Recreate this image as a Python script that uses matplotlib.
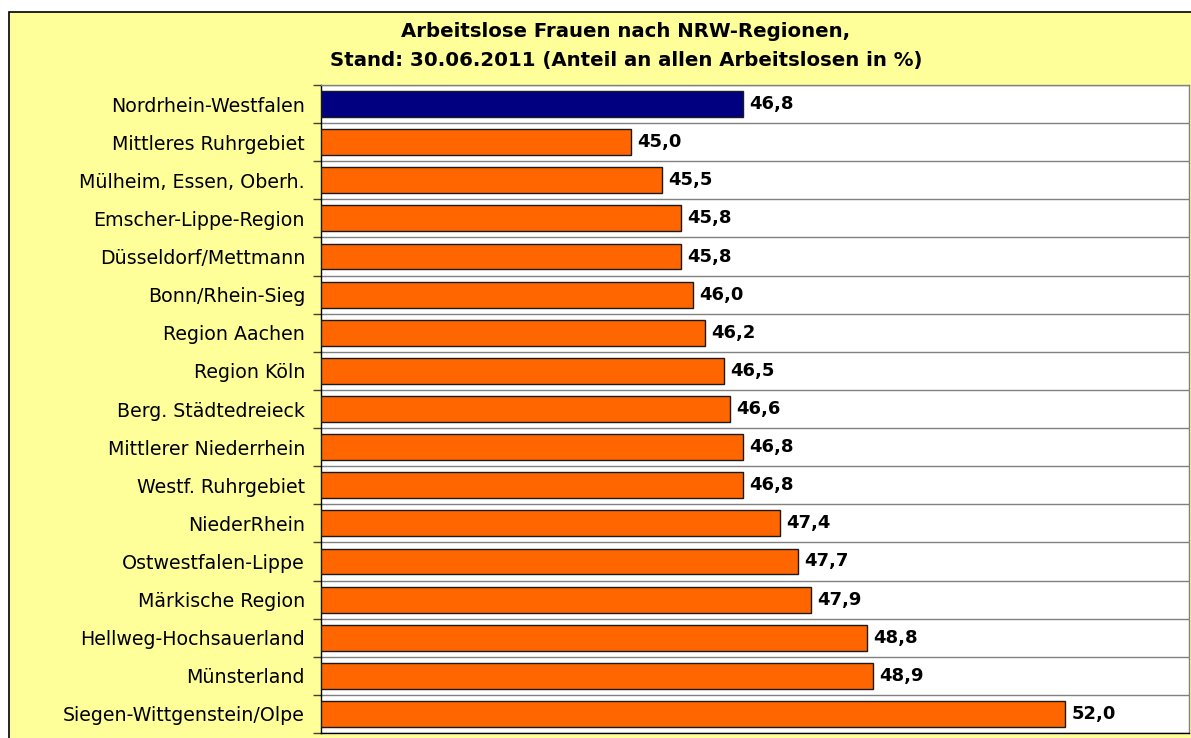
import matplotlib
matplotlib.use("Agg")
import matplotlib.pyplot as plt
from matplotlib.patches import Rectangle

regions = [
    "Nordrhein-Westfalen", "Mittleres Ruhrgebiet", "Mülheim, Essen, Oberh.",
    "Emscher-Lippe-Region", "Düsseldorf/Mettmann", "Bonn/Rhein-Sieg",
    "Region Aachen", "Region Köln", "Berg. Städtedreieck",
    "Mittlerer Niederrhein", "Westf. Ruhrgebiet", "NiederRhein",
    "Ostwestfalen-Lippe", "Märkische Region", "Hellweg-Hochsauerland",
    "Münsterland", "Siegen-Wittgenstein/Olpe",
]
values = [46.8, 45.0, 45.5, 45.8, 45.8, 46.0, 46.2, 46.5, 46.6,
          46.8, 46.8, 47.4, 47.7, 47.9, 48.8, 48.9, 52.0]
title = "Arbeitslose Frauen nach NRW-Regionen,\nStand: 30.06.2011 (Anteil an allen Arbeitslosen in %)"

plt.rcParams['font.family'] = ['DejaVu Sans']

W, H = 1191, 738
fig = plt.figure(figsize=(W / 100, H / 100), dpi=100)
fig.patch.set_facecolor("white")

# yellow chart frame
frame = Rectangle((9 / W, -0.1), 1.2, 1.1 - 12 / H, transform=fig.transFigure,
                  facecolor="#FFFF99", edgecolor="black", linewidth=1.2, zorder=-5)
fig.patches.append(frame)

ax = fig.add_axes([321 / W, 5 / H, (1189 - 321) / W, (733 - 85) / H])
ax.set_zorder(2)
ax.set_facecolor("white")

n = len(regions)
ypos = list(range(n))
colors = ["#000080"] + ["#FF6600"] * (n - 1)
ax.barh(ypos, [v - 40 for v in values], left=40, height=0.68,
        color=colors, edgecolor="#1a1a1a", linewidth=1.0, zorder=3)
ax.set_xlim(40, 54)
ax.set_ylim(n - 0.5, -0.5)

for y, v in zip(ypos, values):
    ax.text(v + 0.1, y, f"{v:.1f}".replace(".", ","), va="center", ha="left",
            fontsize=13, fontweight="bold", color="black", zorder=4)

# gridlines at category boundaries
for b in range(n + 1):
    ax.axhline(b - 0.5, color="#808080", linewidth=1.0, zorder=1)

ax.set_yticks([b - 0.5 for b in range(n + 1)], minor=True)
ax.set_yticks(ypos)
ax.set_yticklabels(regions, fontsize=13.7)
ax.tick_params(axis="y", which="major", length=0, pad=11.5)
ax.tick_params(axis="y", which="minor", length=6, width=1, color="#404040")
ax.set_xticks([])

for s in ["top", "right"]:
    ax.spines[s].set_color("#808080")
ax.spines["left"].set_color("black")
ax.spines["bottom"].set_color("black")
for s in ax.spines.values():
    s.set_linewidth(1.0)

fig.text(626 / W, 1 - 46 / H, title, ha="center", va="center", fontsize=14.2,
         fontweight="bold", linespacing=1.72)

fig.savefig("out.png", dpi=100, facecolor=fig.get_facecolor())
